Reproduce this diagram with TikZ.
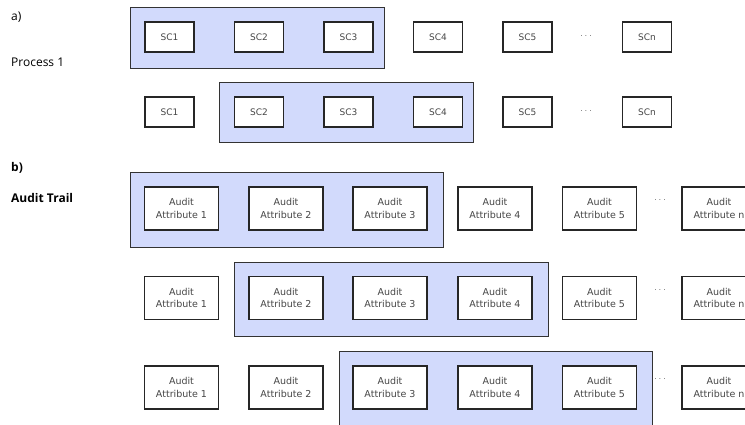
\documentclass[tikz,border=0pt]{standalone}
\usepackage{fontspec}
\setmainfont{DejaVu Sans}
\newfontfamily\labelfont{Open Sans}
\usepackage{tikz}

\definecolor{groupblue}{RGB}{210,218,252}
\definecolor{textgray}{RGB}{70,70,70}

\begin{document}
\begin{tikzpicture}[x=1pt, y=-1pt,
  sc/.style={draw=black!85, line width=1.2pt, fill=white, minimum width=49pt, minimum height=30pt, inner sep=0pt, text=textgray, font=\fontsize{9}{11}\selectfont},
  attr/.style={draw=black!85, line width=1.2pt, fill=white, minimum width=74pt, minimum height=43pt, inner sep=0pt, align=center, text=textgray, font=\fontsize{9.5}{12.5}\selectfont},
  group/.style={draw=black!80, line width=0.9pt, fill=groupblue},
  more/.style={text=textgray, font=\fontsize{7}{8}\selectfont},
  caption/.style={anchor=west, inner sep=0pt, font=\labelfont\fontsize{12}{14}\selectfont}]
\useasboundingbox (0,0) rectangle (745,424);
\clip (0,0) rectangle (745,424);

% a) process
\node[caption] (lbla) at (11,17) {a)};
\node[caption] (lblproc) at (11,62) {Process 1};

\filldraw[group] (130,7) rectangle (384,68);
\node[sc] (sc11) at (169.5,37) {SC1};
\node[sc] (sc12) at (259,37) {SC2};
\node[sc] (sc13) at (348.5,37) {SC3};
\node[sc] (sc14) at (438,37) {SC4};
\node[sc] (sc15) at (527.5,37) {SC5};
\node[more] (dots1) at (586,37) {· · ·};
\node[sc] (sc1n) at (647,37) {SCn};

\filldraw[group] (219,82) rectangle (473,142);
\node[sc] (sc21) at (169.5,112) {SC1};
\node[sc] (sc22) at (259,112) {SC2};
\node[sc] (sc23) at (348.5,112) {SC3};
\node[sc] (sc24) at (438,112) {SC4};
\node[sc] (sc25) at (527.5,112) {SC5};
\node[more] (dots2) at (586,112) {· · ·};
\node[sc] (sc2n) at (647,112) {SCn};

% b) audit trail
\node[caption] (lblb) at (11,168) {\bfseries b)};
\node[caption] (lbltrail) at (11,198) {\bfseries Audit Trail};

\filldraw[group] (130,172) rectangle (443,247);
\node[attr] (aa11) at (181.5,208.5) {Audit\\Attribute 1};
\node[attr] (aa12) at (286,208.5) {Audit\\Attribute 2};
\node[attr] (aa13) at (390,208.5) {Audit\\Attribute 3};
\node[attr] (aa14) at (495,208.5) {Audit\\Attribute 4};
\node[attr] (aa15) at (599.5,208.5) {Audit\\Attribute 5};
\node[more] (dots3) at (660,201) {· · ·};
\node[attr] (aa1n) at (719,208.5) {Audit\\Attribute n};

\filldraw[group] (234,262) rectangle (548,336);
\node[attr] (aa21) at (181.5,298) {Audit\\Attribute 1};
\node[attr] (aa22) at (286,298) {Audit\\Attribute 2};
\node[attr] (aa23) at (390,298) {Audit\\Attribute 3};
\node[attr] (aa24) at (495,298) {Audit\\Attribute 4};
\node[attr] (aa25) at (599.5,298) {Audit\\Attribute 5};
\node[more] (dots4) at (660,291) {· · ·};
\node[attr] (aa2n) at (719,298) {Audit\\Attribute n};

\filldraw[group] (339,351) rectangle (652,426);
\node[attr] (aa31) at (181.5,387.5) {Audit\\Attribute 1};
\node[attr] (aa32) at (286,387.5) {Audit\\Attribute 2};
\node[attr] (aa33) at (390,387.5) {Audit\\Attribute 3};
\node[attr] (aa34) at (495,387.5) {Audit\\Attribute 4};
\node[attr] (aa35) at (599.5,387.5) {Audit\\Attribute 5};
\node[more] (dots5) at (660,380) {· · ·};
\node[attr] (aa3n) at (719,387.5) {Audit\\Attribute n};
\end{tikzpicture}
\end{document}
